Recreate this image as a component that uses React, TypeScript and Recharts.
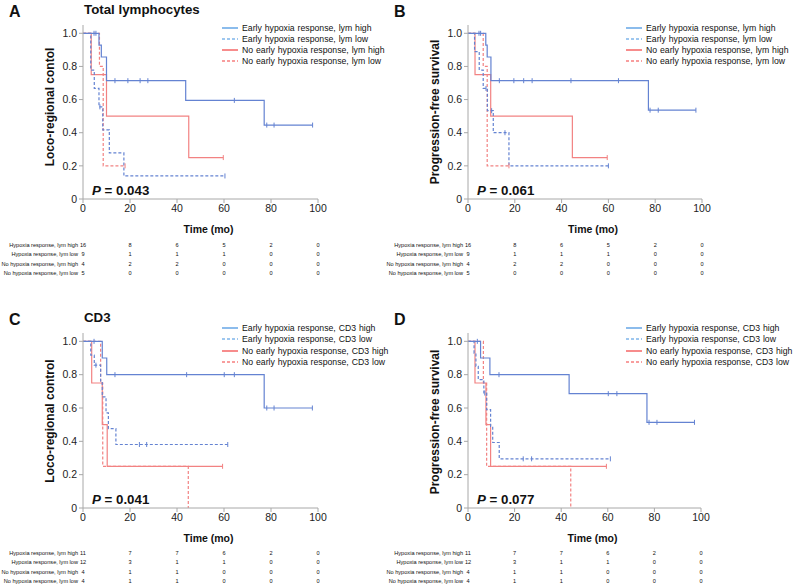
import React from 'react';
import { LineChart, Line, XAxis, YAxis } from 'recharts';

// [time, survival, censored?]
type Pt = [number, number, number?];

// A: loco-regional control, total lymphocytes
const aEarlyHigh: Pt[] = [[0, 1], [4.7, 1, 1], [5.5, 1, 1], [6.8, 0.929], [7.8, 0.857], [10, 0.714], [13.6, 0.714, 1], [19.1, 0.714, 1], [24.3, 0.714, 1], [27.6, 0.714, 1], [43.7, 0.595], [64.4, 0.595, 1], [77.1, 0.446], [78.2, 0.446, 1], [81.3, 0.446, 1], [97.7, 0.446, 1]];
const aEarlyLow: Pt[] = [[0, 1], [3.3, 0.778], [4.8, 0.667], [6.8, 0.556], [7.2, 0.556, 1], [8.4, 0.417], [11.2, 0.278], [17.4, 0.139], [60.4, 0.139, 1]];
const aNoHigh: Pt[] = [[0, 1], [3.5, 0.75], [10, 0.5], [45, 0.25], [59.7, 0.25, 1]];
const aNoLow: Pt[] = [[0, 1], [7.0, 0.8], [8.6, 0.2], [17.9, 0.2, 1]];

// B: progression-free survival, total lymphocytes
const bEarlyHigh: Pt[] = [[0, 1], [4.7, 1, 1], [5.4, 1, 1], [7.6, 0.929], [8.2, 0.857], [9.8, 0.714], [13.4, 0.714, 1], [19.6, 0.714, 1], [23.8, 0.714, 1], [27.4, 0.714, 1], [44, 0.714, 1], [64.3, 0.714, 1], [77.1, 0.536], [77.8, 0.536, 1], [81.3, 0.536, 1], [97.4, 0.536, 1]];
const bEarlyLow: Pt[] = [[0, 1], [2.8, 0.889], [4.8, 0.778], [6.5, 0.667], [7.7, 0.667, 1], [8.3, 0.533], [10.1, 0.533, 1], [10.8, 0.4], [15.8, 0.4, 1], [17.5, 0.2], [60, 0.2, 1]];
const bNoHigh: Pt[] = [[0, 1], [3.0, 0.75], [9.7, 0.5], [44.6, 0.25], [59.5, 0.25, 1]];
const bNoLow: Pt[] = [[0, 1], [6.5, 0.8], [8.2, 0.2], [17.5, 0.2, 1]];

// C: loco-regional control, CD3
const cEarlyHigh: Pt[] = [[0, 1], [4.7, 1, 1], [8.2, 0.9], [10.1, 0.8], [13.6, 0.8, 1], [44.1, 0.8, 1], [60.1, 0.8, 1], [64.4, 0.8, 1], [77.1, 0.6], [78.2, 0.6, 1], [81.3, 0.6, 1], [97.6, 0.6, 1]];
const cEarlyLow: Pt[] = [[0, 1], [3.3, 0.917], [4.8, 0.857], [5.5, 0.857, 1], [7.5, 0.762], [8.2, 0.667], [9.8, 0.571], [10.8, 0.476], [14.0, 0.381], [24, 0.381, 1], [27.1, 0.381, 1], [61.6, 0.381, 1]];
const cNoHigh: Pt[] = [[0, 1], [3.7, 0.75], [8.2, 0.5], [10.3, 0.25], [59.4, 0.25, 1]];
const cNoLow: Pt[] = [[0, 1], [7.5, 0.75], [8.4, 0.25], [44.8, 0]];

// D: progression-free survival, CD3
const dEarlyHigh: Pt[] = [[0, 1], [4.0, 1, 1], [5.4, 0.9], [9.4, 0.8], [13.3, 0.8, 1], [43.4, 0.686], [60.2, 0.686, 1], [63.9, 0.686, 1], [76.8, 0.514], [77.7, 0.514, 1], [81.1, 0.514, 1], [97.2, 0.514, 1]];
const dEarlyLow: Pt[] = [[0, 1], [2.6, 0.929], [3.4, 0.85], [4.4, 0.77], [6.8, 0.69], [7.2, 0.69, 1], [8.0, 0.59], [9.7, 0.49], [10.6, 0.393], [13.4, 0.295], [23.7, 0.295, 1], [27.3, 0.295, 1], [61.1, 0.295, 1]];
const dNoHigh: Pt[] = [[0, 1], [3.0, 0.75], [7.7, 0.5], [9.7, 0.25], [59.4, 0.25, 1]];
const dNoLow: Pt[] = [[0, 1], [6.6, 0.75], [8.0, 0.25], [44.1, 0]];

const timeTicks = [0, 20, 40, 60, 80, 100];
const survTicks = [0, 0.2, 0.4, 0.6, 0.8, 1];

const lymLegend = ['Early hypoxia response, lym high', 'Early hypoxia response, lym low', 'No early hypoxia response, lym high', 'No early hypoxia response, lym low'];
const cd3Legend = ['Early hypoxia response, CD3 high', 'Early hypoxia response, CD3 low', 'No early hypoxia response, CD3 high', 'No early hypoxia response, CD3 low'];
const riskLabels = ['Hypoxia response, lym high', 'Hypoxia response, lym low', 'No hypoxia response, lym high', 'No hypoxia response, lym low'];

const riskA = [[16, 8, 6, 5, 2, 0], [9, 1, 1, 1, 0, 0], [4, 2, 2, 0, 0, 0], [5, 0, 0, 0, 0, 0]];
const riskB = [[16, 8, 6, 5, 2, 0], [9, 1, 1, 1, 0, 0], [4, 2, 2, 0, 0, 0], [5, 0, 0, 0, 0, 0]];
const riskC = [[11, 7, 7, 6, 2, 0], [12, 3, 1, 1, 0, 0], [4, 1, 1, 0, 0, 0], [4, 1, 1, 0, 0, 0]];
const riskD = [[11, 7, 7, 6, 2, 0], [12, 3, 1, 1, 0, 0], [4, 1, 1, 0, 0, 0], [4, 1, 1, 0, 0, 0]];

const BLUE = '#6483d2';
const RED = '#f28282';
const LEG_BLUE = '#3f8fe0';
const LEG_RED = '#f23e3e';
const FONT = '"Liberation Sans", Arial, Helvetica, sans-serif';

const styles = [
  { color: BLUE, leg: LEG_BLUE, dash: undefined as string | undefined },
  { color: BLUE, leg: LEG_BLUE, dash: '3 2' },
  { color: RED, leg: LEG_RED, dash: undefined },
  { color: RED, leg: LEG_RED, dash: '3 2' },
];

const toRows = (pts: Pt[]) => pts.map(([t, s, c]) => ({ t, s, c: c ? 1 : 0 }));

const censorDot = (color: string) => (props: any) => {
  const { cx, cy, payload, index } = props;
  if (!payload || !payload.c) return <g key={index} />;
  return <line key={index} x1={cx} x2={cx} y1={cy - 2.5} y2={cy + 2.5} stroke={color} strokeWidth={1} />;
};

function Txt({ x, y, size, bold, align = 'left', children, rotate }: any) {
  const tx = align === 'left' ? '0' : align === 'center' ? '-50%' : '-100%';
  return (
    <div
      style={{
        position: 'absolute',
        left: x,
        top: y,
        transform: `translate(${tx},-50%)${rotate ? ' rotate(-90deg)' : ''}`,
        fontSize: size,
        fontWeight: bold ? 700 : 400,
        whiteSpace: 'nowrap',
        lineHeight: 1,
        color: '#111',
      }}
    >
      {children}
    </div>
  );
}

interface PanelProps {
  x0: number;
  x1: number;
  yTop: number;
  yBot: number;
  series: Pt[][];
  letter: string;
  title?: string;
  yLabel: string;
  yLabelY: number;
  pval: string;
  legend: string[];
  legendX: number;
  legendY: number;
  risk: number[][];
  riskY: number;
  timeY: number;
}

function Panel(p: PanelProps) {
  const plotW = p.x1 - p.x0;
  const plotH = p.yBot - p.yTop;
  const w = 70 + plotW + 20;
  const h = 10 + plotH + 30;
  const axisColor = '#a8a8a8';
  const tickStyle = { fontSize: 10.5, fill: '#222', fontFamily: FONT };
  const xAt = (t: number) => p.x0 + (t / 100) * plotW;
  return (
    <>
      <div style={{ position: 'absolute', left: p.x0 - 70, top: p.yTop - 10 }}>
        <LineChart width={w} height={h} margin={{ top: 10, right: 20, bottom: 0, left: 30 }}>
          <XAxis
            dataKey="t"
            type="number"
            domain={[0, 100]}
            ticks={timeTicks}
            height={30}
            stroke={axisColor}
            tickSize={4}
            tick={tickStyle}
            allowDuplicatedCategory={false}
          />
          <YAxis
            type="number"
            domain={[0, 1.05]}
            ticks={survTicks}
            width={40}
            stroke={axisColor}
            tickSize={4}
            tick={tickStyle}
            tickFormatter={(v: number) => (v === 0 ? '0' : v.toFixed(1))}
          />
          {[3, 2, 1, 0].map((i) => (
            <Line
              key={i}
              data={toRows(p.series[i])}
              dataKey="s"
              type="stepAfter"
              stroke={styles[i].color}
              strokeWidth={1.2}
              strokeDasharray={styles[i].dash}
              dot={censorDot(styles[i].color)}
              activeDot={false}
              isAnimationActive={false}
            />
          ))}
        </LineChart>
      </div>
      <Txt x={p.x0 - 74} y={p.yTop - 13} size={16} bold>{p.letter}</Txt>
      {p.title && <Txt x={p.x0 + 1} y={p.yTop - 15} size={13.3} bold>{p.title}</Txt>}
      <Txt x={p.x0 - 33} y={p.yLabelY} size={12} bold align="center" rotate>{p.yLabel}</Txt>
      <Txt x={p.x0 + 9} y={p.yBot - 8} size={13.3} bold><i>P</i> = {p.pval}</Txt>
      <Txt x={(p.x0 + p.x1) / 2 + 8} y={p.timeY} size={10.5} bold align="center">Time (mo)</Txt>
      {p.legend.map((label, i) => (
        <div key={label} style={{ position: 'absolute', left: p.legendX, top: p.legendY + i * 11.3 - 5 }}>
          <svg width={16} height={10} style={{ position: 'absolute', left: 0, top: 0 }}>
            <line x1={0} x2={16} y1={5} y2={5} stroke={styles[i].leg} strokeWidth={1.2} strokeDasharray={styles[i].dash} />
          </svg>
          <div style={{ position: 'absolute', left: 20, top: 0, height: 10, lineHeight: '10px', fontSize: 8.7, whiteSpace: 'nowrap', color: '#111', wordSpacing: 0.5 }}>
            {label}
          </div>
        </div>
      ))}
      {p.risk.map((row, r) => (
        <React.Fragment key={r}>
          <Txt x={p.x0 - 5} y={p.riskY + r * 9.6} size={5.6} align="right">{riskLabels[r]}</Txt>
          {row.map((n, k) => (
            <Txt key={k} x={xAt(timeTicks[k])} y={p.riskY + r * 9.6} size={5.6} align="center">{n}</Txt>
          ))}
        </React.Fragment>
      ))}
    </>
  );
}

export default function App() {
  return (
    <div style={{ position: 'absolute', left: 0, top: 0, width: 797, height: 586, background: '#fff', fontFamily: FONT, overflow: 'hidden' }}>
      <Panel x0={83} x1={318} yTop={25} yBot={199} series={[aEarlyHigh, aEarlyLow, aNoHigh, aNoLow]} letter="A" title="Total lymphocytes" yLabel="Loco-regional contol" yLabelY={107} pval="0.043" legend={lymLegend} legendX={222} legendY={27.5} risk={riskA} riskY={245.5} timeY={229} />
      <Panel x0={468} x1={702} yTop={25} yBot={199} series={[bEarlyHigh, bEarlyLow, bNoHigh, bNoLow]} letter="B" yLabel="Progression-free survival" yLabelY={112} pval="0.061" legend={lymLegend} legendX={626} legendY={27.5} risk={riskB} riskY={245.5} timeY={229} />
      <Panel x0={83} x1={318} yTop={333} yBot={508} series={[cEarlyHigh, cEarlyLow, cNoHigh, cNoLow]} letter="C" title="CD3" yLabel="Loco-regional control" yLabelY={421} pval="0.041" legend={cd3Legend} legendX={222} legendY={328} risk={riskC} riskY={553.5} timeY={538} />
      <Panel x0={468} x1={701} yTop={333} yBot={508} series={[dEarlyHigh, dEarlyLow, dNoHigh, dNoLow]} letter="D" yLabel="Progression-free survival" yLabelY={422} pval="0.077" legend={cd3Legend} legendX={626} legendY={328} risk={riskD} riskY={553.5} timeY={538} />
    </div>
  );
}
